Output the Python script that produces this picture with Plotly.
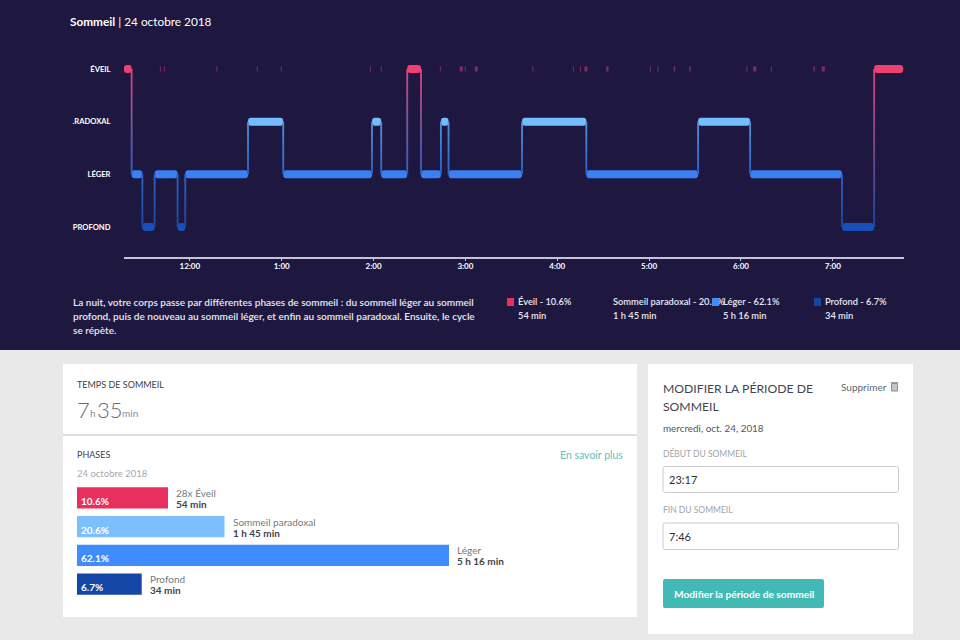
import plotly.graph_objects as go

# Sommeil : phases de la nuit, minutes depuis 23:17
stage_names = ["PROFOND", "LÉGER", ".RADOXAL", "ÉVEIL"]
seg_start = [0, 5, 12, 20, 35, 40, 81, 104, 162, 168, 185, 194, 207, 212, 260, 302, 375, 409, 469, 490]
seg_end = [5, 12, 20, 35, 40, 81, 104, 162, 168, 185, 194, 207, 212, 260, 302, 375, 409, 469, 490, 509]
seg_stage = [3, 1, 0, 1, 0, 1, 2, 1, 2, 1, 3, 1, 2, 1, 2, 1, 2, 1, 0, 3]
wake_start = [23.4, 26, 60.3, 86.7, 102.4, 160.6, 167.7, 206.3, 219.3, 222.6, 229.1, 266.7, 293.2, 297.8, 300.7,
              315, 343.5, 348.4, 359.1, 369.2, 406.5, 411, 422.5, 450.3, 455.8]
wake_len = [.7, .7, .7, .7, .7, .7, .7, .7, 2, .7, 2, .7, .7, .7, 2, 1.5, .7, .7, 1, 1, .7, 2, .7, 1, 2]
tick_min = [43, 103, 163, 223, 283, 343, 403, 463]
tick_text = ["12:00", "1:00", "2:00", "3:00", "4:00", "5:00", "6:00", "7:00"]

phase_colors = ["#1650b8", "#3a80f2", "#74bcff", "#f0406f"]
link_colors = ["#1a48a0", "#2a62c4", "#5590d8", "#d8437a"]

# Tableau des phases
phase_rows = ["Éveil", "Paradoxal", "Léger", "Profond"]
phase_names = ["28x Éveil", "Sommeil paradoxal", "Léger", "Profond"]
phase_pct = ["10.6%", "20.6%", "62.1%", "6.7%"]
phase_time = ["54 min", "1 h 45 min", "5 h 16 min", "34 min"]
phase_len = [91, 147.5, 372, 64.7]
phase_bar_colors = ["#e8305f", "#7cbfff", "#3f8cff", "#1446a6"]

legend_titles = ["Éveil - 10.6%", "Sommeil paradoxal - 20.6%", "Léger - 62.1%", "Profond - 6.7%"]
legend_x = [518, 613, 723, 825]
legend_colors = ["#e8305f", None, "#3f8cff", "#1446a6"]

BG = "#1e1840"
FONT = "Lato"


def fx(x):
    return x / 960


def fy(y):
    return 1 - y / 640


def rect(x0, y0, x1, y1, fill, line=None):
    return dict(type="rect", xref="paper", yref="paper", x0=fx(x0), x1=fx(x1), y0=fy(y0), y1=fy(y1),
                fillcolor=fill, line=dict(color=line or fill, width=1 if line else 0), layer="below")


def round_rect(x0, y0, x1, y1, r, fill, line=None):
    p = (f"M {fx(x0 + r)} {fy(y0)} L {fx(x1 - r)} {fy(y0)} Q {fx(x1)} {fy(y0)} {fx(x1)} {fy(y0 + r)} "
         f"L {fx(x1)} {fy(y1 - r)} Q {fx(x1)} {fy(y1)} {fx(x1 - r)} {fy(y1)} "
         f"L {fx(x0 + r)} {fy(y1)} Q {fx(x0)} {fy(y1)} {fx(x0)} {fy(y1 - r)} "
         f"L {fx(x0)} {fy(y0 + r)} Q {fx(x0)} {fy(y0)} {fx(x0 + r)} {fy(y0)} Z")
    return dict(type="path", xref="paper", yref="paper", path=p, fillcolor=fill,
                line=dict(color=line or fill, width=1 if line else 0), layer="below")


def label(x, y, text, size=10, color="#ffffff", weight=400, anchor="left"):
    return dict(xref="paper", yref="paper", x=fx(x), y=fy(y), text=text, showarrow=False,
                xanchor=anchor, yanchor="middle", align="left", borderpad=0, borderwidth=0,
                font=dict(family=FONT, size=size, color=color, weight=weight))


fig = go.Figure()

# connecteurs entre phases, en dégradé
for i in range(len(seg_stage) - 1):
    a, b = seg_stage[i], seg_stage[i + 1]
    t = seg_end[i]
    lo, hi = min(a, b), max(a, b)
    fig.add_trace(go.Scatter(
        x=[t - .6, t + .6, t + .6, t - .6], y=[lo, lo, hi, hi], mode="lines", fill="toself",
        line=dict(width=0), fillcolor=link_colors[lo], hoverinfo="skip", showlegend=False,
        fillgradient=dict(type="vertical", colorscale=[[0, link_colors[lo]], [1, link_colors[hi]]])))

# phases
fig.add_trace(go.Bar(
    x=[e - s for s, e in zip(seg_start, seg_end)], base=seg_start, y=seg_stage, orientation="h", width=0.152,
    marker=dict(color=[phase_colors[s] for s in seg_stage], line_width=0, cornerradius=3),
    hoverinfo="skip", showlegend=False))
# réveils courts
fig.add_trace(go.Scatter(
    x=[s + d / 2 for s, d in zip(wake_start, wake_len)], y=[3] * len(wake_start), mode="markers",
    marker=dict(symbol="line-ns", size=3.5, color="#7d2a66",
                line=dict(color="#7d2a66", width=[max(1, d * 1.53) for d in wake_len])),
    hoverinfo="skip", showlegend=False))

# barres du tableau
fig.add_trace(go.Bar(
    x=phase_len, y=phase_rows, orientation="h", width=0.742, xaxis="x2", yaxis="y2",
    marker=dict(color=phase_bar_colors, line_width=0), hoverinfo="skip", showlegend=False))

shapes = [
    rect(0, 0, 960, 350, BG),
    rect(0, 350, 960, 640, "#e9e9e9"),
    rect(63, 364, 637, 617, "#ffffff"),
    rect(648, 364, 913, 634, "#ffffff"),
    rect(63, 434.5, 637, 435.5, "#bdbdbd"),
    round_rect(663, 466.5, 898.5, 492.5, 2, "#ffffff", "#cccccc"),
    round_rect(663, 523, 898.5, 549.5, 2, "#ffffff", "#cccccc"),
    round_rect(663, 579, 824, 608, 2, "#43b9b5"),
    # corbeille
    rect(891.5, 383.5, 897.5, 391, "#c4c7c9", "#8a8f92"),
    rect(890.5, 382, 898.5, 382.8, "#8a8f92"),
]

notes = [
    dict(xref="paper", yref="paper", x=fx(69), y=fy(21.5), showarrow=False, xanchor="left", yanchor="middle",
         borderpad=0, text="<b>Sommeil</b> | 24 octobre 2018", font=dict(family=FONT, size=11.8, color="#ffffff")),
    label(73, 301.5, "La nuit, votre corps passe par différentes phases de sommeil : du sommeil léger au sommeil",
          10.05, "#e8e8f0", 600),
    label(73, 315.5, "profond, puis de nouveau au sommeil léger, et enfin au sommeil paradoxal. Ensuite, le cycle",
          10.05, "#e8e8f0", 600),
    label(73, 330, "se répète.", 10.05, "#e8e8f0", 600),
    label(77, 384.5, "TEMPS DE SOMMEIL", 9, "#3c4348", 400),
    label(77, 409.5, "7", 22, "#666c70", 300),
    label(90, 412.5, "h", 10, "#8a8f92", 400),
    label(97, 409.5, "35", 22, "#666c70", 300),
    label(122, 412.5, "min", 10, "#8a8f92", 400),
    label(77, 454.5, "PHASES", 9, "#3c4348", 400),
    label(77, 473.5, "24 octobre 2018", 9.5, "#a6aaac", 400),
    label(623, 454.5, "En savoir plus", 10.5, "#5fc0bb", 400, anchor="right"),
    label(662.5, 388, "MODIFIER LA PÉRIODE DE", 12.2, "#3f474c", 400),
    label(662.5, 406, "SOMMEIL", 12.2, "#3f474c", 400),
    label(662.5, 428, "mercredi, oct. 24, 2018", 9.9, "#50575b", 400),
    label(841, 386.5, "Supprimer", 10, "#60676b", 400),
    label(662.5, 453, "DÉBUT DU SOMMEIL", 8.5, "#a0a4a7", 400),
    label(662.5, 510, "FIN DU SOMMEIL", 8.5, "#a0a4a7", 400),
    label(669, 479, "23:17", 11, "#2c2f32", 400),
    label(669, 536, "7:46", 11, "#2c2f32", 400),
    label(743.5, 593.5, "Modifier la période de sommeil", 10.2, "#ffffff", 700, anchor="center"),
]

# légende du sommeil
for title, time_txt, x in zip(legend_titles, phase_time, legend_x):
    notes.append(label(x, 301, title, 9.3, "#e8e8f0", 600))
    notes.append(label(x, 315.5, time_txt, 9.3, "#e8e8f0", 600))
for color, x in zip(legend_colors, legend_x):
    if color:
        n = label(x - 11.5, 302, " ", 1)
        n.update(bgcolor=color, width=7, height=8)
        notes.append(n)

# textes du tableau
for row, pct, name, time_txt, length in zip(phase_rows, phase_pct, phase_names, phase_time, phase_len):
    notes.append(dict(xref="x2", yref="y2", x=0, y=row, xshift=2, yshift=-3, text=pct, showarrow=False,
                      xanchor="left", yanchor="middle",
                      font=dict(family=FONT, size=10, color="#ffffff", weight=700)))
    notes.append(dict(xref="x2", yref="y2", x=length, y=row, xshift=6, yshift=5, text=name, showarrow=False,
                      xanchor="left", yanchor="middle", font=dict(family=FONT, size=10, color="#74797d")))
    notes.append(dict(xref="x2", yref="y2", x=length, y=row, xshift=6, yshift=-6, text=time_txt, showarrow=False,
                      xanchor="left", yanchor="middle",
                      font=dict(family=FONT, size=10, color="#3f4549", weight=700)))

fig.update_layout(
    width=960, height=640, margin=dict(l=0, r=0, t=0, b=0), paper_bgcolor="#e9e9e9", plot_bgcolor="rgba(0,0,0,0)",
    barmode="overlay", shapes=shapes, annotations=notes, showlegend=False,
    xaxis=dict(domain=[fx(124), fx(904)], range=[0, 509.5], tickvals=tick_min, ticktext=tick_text, showgrid=False,
               zeroline=False, showline=True, linecolor="#c6c3d6", linewidth=1.5, ticks="outside", ticklen=3,
               tickcolor="#c6c3d6", tickwidth=1, ticklabelstandoff=-2,
               tickfont=dict(family=FONT, size=8, color="#ffffff", weight=700)),
    yaxis=dict(domain=[fy(256.5), fy(60)], range=[-0.56, 3.17], tickvals=[0, 1, 2, 3], ticktext=stage_names,
               showgrid=False, zeroline=False, showline=False, ticks="outside", ticklen=11, tickcolor=BG,
               tickfont=dict(family=FONT, size=7.6, color="#ffffff", weight=700)),
    xaxis2=dict(domain=[fx(77), fx(637)], range=[0, 560], visible=False, anchor="y2"),
    yaxis2=dict(domain=[fy(598.4), fy(483.6)], range=[3.5, -0.5], type="category", categoryorder="array",
                categoryarray=phase_rows, visible=False, anchor="x2"),
)

fig.write_html("out.html", post_script="document.body.style.margin='0';", config={"displayModeBar": False})
